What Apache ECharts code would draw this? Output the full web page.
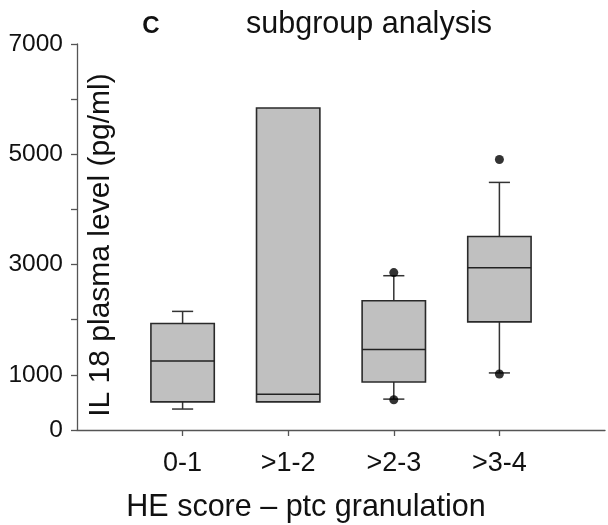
<!DOCTYPE html>
<html>
<head>
<meta charset="utf-8">
<script src="https://cdn.jsdelivr.net/npm/echarts@6/dist/echarts.min.js"></script>
<style>
html,body{margin:0;padding:0;background:#fff;}
#chart{width:608px;height:525px;}
</style>
</head>
<body>
<div id="chart"></div>
<script>
// Categories (padded with blank ends so the axis runs 0..5)
var categories = ['0-1', '>1-2', '>2-3', '>3-4'];
// Box statistics: [lower whisker, Q1, median, Q3, upper whisker]
var lowerWhisker = [380, 510, 560, 1035];
var q1Values     = [510, 510, 870, 1960];
var medianValues = [1252, 650, 1458, 2942];
var q3Values     = [1932, 5840, 2345, 3510];
var upperWhisker = [2151, 5840, 2798, 4490];
// Outliers: [category index, value]
var outliers = [[2, 2855], [2, 548], [3, 4905], [3, 1016]];
// Y tick labels shown
var yTickLabels = [0, 1000, 3000, 5000, 7000];

var FONT = 'Liberation Sans, Arial, sans-serif';
var axisCats = [''].concat(categories).concat(['']);

var boxData = categories.map(function (c, i) {
  return [i + 1, lowerWhisker[i], q1Values[i], medianValues[i], q3Values[i], upperWhisker[i]];
});
var outlierData = outliers.map(function (o) { return [o[0] + 1, o[1]]; });

function renderBox(params, api) {
  var x = api.value(0);
  var pMin = api.coord([x, api.value(1)]);
  var pQ1 = api.coord([x, api.value(2)]);
  var pMed = api.coord([x, api.value(3)]);
  var pQ3 = api.coord([x, api.value(4)]);
  var pMax = api.coord([x, api.value(5)]);
  var band = api.size([1, 0])[0];
  var bw = band * 0.6;
  var cw = band * 0.2;
  var cx = pMed[0];
  var lineStyle = {stroke: '#333', lineWidth: 1.5, fill: null};
  var children = [];
  if (pMax[1] < pQ3[1]) {
    children.push({type: 'line', shape: {x1: cx, y1: pMax[1], x2: cx, y2: pQ3[1]}, style: lineStyle});
    children.push({type: 'line', shape: {x1: cx - cw / 2, y1: pMax[1], x2: cx + cw / 2, y2: pMax[1]}, style: lineStyle});
  }
  if (pMin[1] > pQ1[1]) {
    children.push({type: 'line', shape: {x1: cx, y1: pQ1[1], x2: cx, y2: pMin[1]}, style: lineStyle});
    children.push({type: 'line', shape: {x1: cx - cw / 2, y1: pMin[1], x2: cx + cw / 2, y2: pMin[1]}, style: lineStyle});
  }
  children.push({type: 'rect', shape: {x: cx - bw / 2, y: pQ3[1], width: bw, height: pQ1[1] - pQ3[1]},
    style: {fill: '#c0c0c0', stroke: '#2a2a2a', lineWidth: 1.6}});
  children.push({type: 'line', shape: {x1: cx - bw / 2, y1: pMed[1], x2: cx + bw / 2, y2: pMed[1]},
    style: {stroke: '#222', lineWidth: 1.5}});
  return {type: 'group', children: children};
}

var chart = echarts.init(document.getElementById('chart'), null, {renderer: 'canvas'});
chart.setOption({
  animation: false,
  backgroundColor: '#fff',
  grid: {left: 77, top: 44, width: 537.5, height: 386, containLabel: false},
  xAxis: {
    type: 'category',
    data: axisCats,
    boundaryGap: false,
    axisLine: {show: true, lineStyle: {color: '#555', width: 1.3}},
    axisTick: {show: true, length: 6, lineStyle: {color: '#555', width: 1.3},
      interval: function (i, v) { return v !== ''; }},
    axisLabel: {interval: 0, fontSize: 27, color: '#111', fontFamily: FONT, margin: 20},
    splitLine: {show: false}
  },
  yAxis: {
    type: 'value',
    min: 0, max: 7000, interval: 1000,
    axisLine: {show: true, lineStyle: {color: '#555', width: 1.3}},
    axisTick: {show: true, length: 6, lineStyle: {color: '#555', width: 1.3}},
    axisLabel: {fontSize: 24.5, color: '#111', fontFamily: FONT, margin: 14,
      formatter: function (v) { return yTickLabels.indexOf(v) >= 0 ? String(v) : ''; }},
    splitLine: {show: false}
  },
  graphic: [
    {type: 'text', x: 151, y: 26, style: {text: 'C', fontSize: 24, fontWeight: 'bold', fontFamily: FONT, fill: '#111',
      textAlign: 'center', textVerticalAlign: 'middle'}},
    {type: 'text', x: 369, y: 25, style: {text: 'subgroup analysis', fontSize: 30.5, fontFamily: FONT, fill: '#111',
      textAlign: 'center', textVerticalAlign: 'middle'}},
    {type: 'text', x: 306, y: 508, style: {text: 'HE score – ptc granulation', fontSize: 30.5, fontFamily: FONT, fill: '#111',
      textAlign: 'center', textVerticalAlign: 'middle'}},
    {type: 'text', x: 101, y: 245, rotation: Math.PI / 2, style: {text: 'IL 18 plasma level (pg/ml)', fontSize: 30,
      fontFamily: FONT, fill: '#111', textAlign: 'center', textVerticalAlign: 'middle'}}
  ],
  series: [
    {type: 'custom', renderItem: renderBox, data: boxData, encode: {x: 0, y: [1, 2, 3, 4, 5]}, z: 2},
    {type: 'scatter', data: outlierData, symbol: 'circle', symbolSize: 9,
      itemStyle: {color: '#000'}, z: 3}
  ]
});
</script>
</body>
</html>
